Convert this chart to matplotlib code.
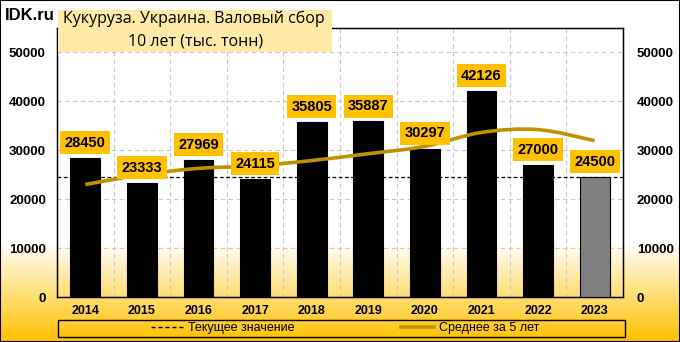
import numpy as np
import matplotlib
matplotlib.use("Agg")
import matplotlib.pyplot as plt
from matplotlib.path import Path
from matplotlib.patches import PathPatch, Rectangle
from matplotlib.colors import LinearSegmentedColormap
from matplotlib.lines import Line2D

years = ["2014", "2015", "2016", "2017", "2018", "2019", "2020", "2021", "2022", "2023"]
harvest = [28450, 23333, 27969, 24115, 35805, 35887, 30297, 42126, 27000, 24500]
avg5 = [23000, 25000, 26300, 26800, 27900, 29300, 30800, 33650, 34220, 31960]
current = 24500
yticks = [0, 10000, 20000, 30000, 40000, 50000]

plt.rcParams['font.family'] = ['Liberation Sans', 'DejaVu Sans']

W, H = 680, 342
fig = plt.figure(figsize=(W / 100, H / 100), dpi=100)

# background gradient
bg = fig.add_axes([0, 0, 1, 1], zorder=-10)
bg.axis('off')
cmap = LinearSegmentedColormap.from_list('g', [(0, '#FFC000'), (0.45, '#FFDD70'), (1, '#FFFFFF')])
grad = np.linspace(0, 1, 256).reshape(-1, 1)
bg.imshow(grad, aspect='auto', cmap=cmap, extent=[0, 1, 0, 0.29], origin='lower')
bg.add_patch(Rectangle((0, 0.29), 1, 0.71, color='white', zorder=-1))
bg.set_xlim(0, 1)
bg.set_ylim(0, 1)

ax = fig.add_axes([57 / W, 1 - 297 / H, (623 - 57) / W, (297 - 28) / H])
ax.set_facecolor('none')
x = np.arange(len(years))
colors = ['black'] * (len(years) - 1) + ['#808080']
ax.bar(x, harvest, width=0.53, color=colors, edgecolor='black', linewidth=0.8, zorder=3)
ax.axhline(current, color='black', linestyle=(0, (3, 2)), linewidth=0.9, zorder=2)

# smoothed 5-year average (Catmull-Rom through the data points)
pts = np.column_stack([x, avg5]).astype(float)
verts = [tuple(pts[0])]
codes = [Path.MOVETO]
n = len(pts)
for i in range(n - 1):
    p0 = pts[i - 1] if i > 0 else pts[i]
    p1 = pts[i]
    p2 = pts[i + 1]
    p3 = pts[i + 2] if i + 2 < n else pts[i + 1]
    c1 = p1 + (p2 - p0) / 6
    c2 = p2 - (p3 - p1) / 6
    verts += [tuple(c1), tuple(c2), tuple(p2)]
    codes += [Path.CURVE4] * 3
ax.add_patch(PathPatch(Path(verts, codes), facecolor='none', edgecolor='#BF9000',
                       linewidth=2.6, zorder=4, capstyle='butt'))

for xi, v in zip(x, harvest):
    ax.annotate(f"{v}", (xi, v), xytext=(0, 6), textcoords='offset points',
                ha='center', va='bottom', fontsize=10.5, fontweight='bold',
                bbox=dict(boxstyle='square,pad=0.3', fc='#FFC000', ec='none'), zorder=6)

ax.set_xlim(-0.5, len(years) - 0.5)
ax.set_ylim(0, 55000)
ax.set_yticks(yticks)
ax.set_yticklabels([str(t) for t in yticks], fontsize=9.5, fontweight='bold')
ax.set_xticks(x)
ax.set_xticklabels(years, fontsize=9, fontweight='bold')
ax.tick_params(length=0, pad=6)
ax.tick_params(axis='y', pad=8)
for yv in yticks[1:]:
    ax.axhline(yv, color='#C8C8C8', linestyle=(0, (4, 3)), linewidth=0.8, zorder=1)
for xv in np.arange(0.5, len(years) - 0.5, 1):
    ax.axvline(xv, color='#C8C8C8', linestyle=(0, (4, 3)), linewidth=0.8, zorder=1)
for s in ax.spines.values():
    s.set_color('black')
    s.set_linewidth(1)

ax2 = ax.twinx()
ax2.set_ylim(0, 55000)
ax2.set_yticks(yticks)
ax2.set_yticklabels([str(t) for t in yticks], fontsize=9.5, fontweight='bold')
ax2.tick_params(length=0, pad=10)

# title box
fig.patches.append(Rectangle((58 / W, 1 - 52 / H), (332 - 58) / W, 42 / H,
                             transform=fig.transFigure, fc='#FFE9A6', ec='none', zorder=5))
fig.text(194 / W, 1 - 19 / H, "Кукуруза. Украина. Валовый сбор", ha='center', va='center',
         fontsize=11.5, family=['Open Sans', 'DejaVu Sans'], zorder=6)
fig.text(196 / W, 1 - 41 / H, "10 лет (тыс. тонн)", ha='center', va='center',
         fontsize=11.5, family=['Open Sans', 'DejaVu Sans'], zorder=6)
fig.text(5 / W, 1 - 16 / H, "IDK.ru", ha='left', va='center', fontsize=12, fontweight='bold')

# legend
fig.patches.append(Rectangle((58 / W, 1 - 337 / H), (625 - 58) / W, 17 / H,
                             transform=fig.transFigure, fc='none', ec='black', lw=1, zorder=5))
handles = [Line2D([], [], color='black', linestyle=(0, (3, 2)), linewidth=1),
           Line2D([], [], color='#BF9000', linewidth=2.6)]
leg = fig.legend(handles, ["Текущее значение", "Среднее за 5 лет"], loc='center',
                 bbox_to_anchor=(345 / W, 1 - 328.5 / H), ncol=2, frameon=False,
                 prop={'family': ['Liberation Sans Narrow', 'Liberation Sans'], 'size': 9},
                 columnspacing=8.5, handlelength=2.6, handletextpad=0.4, borderpad=0.1)

fig.patches.append(Rectangle((0, 0), 1, 1, transform=fig.transFigure, fc='none',
                             ec='black', lw=1.5, zorder=10))

fig.savefig('out.png', dpi=100)
